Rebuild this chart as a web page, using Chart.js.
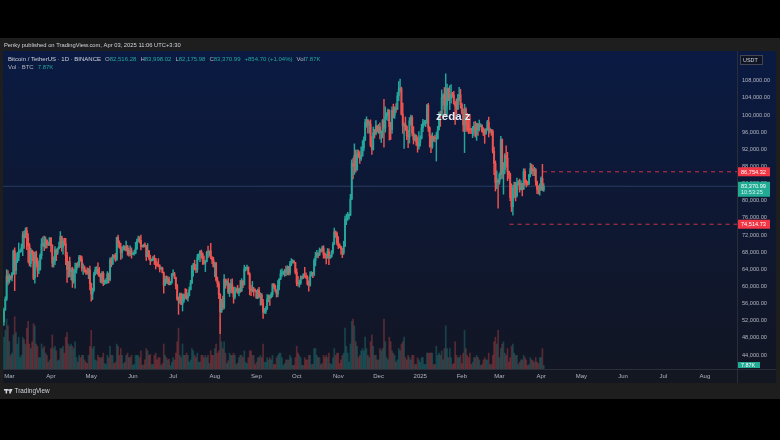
<!DOCTYPE html>
<html>
<head>
<meta charset="utf-8">
<title>BTCUSDT 1D</title>
<script src="https://cdn.jsdelivr.net/npm/chart.js@4.4.1/dist/chart.umd.min.js"></script>
<style>
  html, body { margin: 0; padding: 0; background: #000; }
</style>
</head>
<body>
<canvas id="btcChart" width="780" height="440"></canvas>
<script>
// days are counted from Mar 1 2024 (day 0); first candle is Feb 26 2024
var firstDay = -4;
var firstOpen = 51730;

// daily closes, Feb 26 2024 -> Apr 3 2025
var closes = [
  54476, 57037, 62432, 61130,
  // Mar 2024
  62387, 61987, 63113, 68245, 63724, 66075, 66813, 68124, 68313, 68955,
  72078, 71452, 73072, 71388, 69499, 65300, 68393, 67609, 61937, 67840,
  65501, 63796, 64037, 67211, 69880, 69987, 69455, 70744, 69892, 69645, 71333,
  // Apr
  69702, 65446, 65980, 68508, 67837, 68896, 69360, 71620, 69146, 70631,
  70007, 67195, 63924, 65738, 63426, 63811, 61276, 63512, 63843, 64994,
  64927, 66837, 66408, 64276, 64481, 63756, 63419, 63113, 63841, 60636,
  // May
  58254, 59123, 62889, 63891, 64031, 63161, 62334, 61187, 63049, 60792,
  60793, 61448, 62901, 61552, 66189, 65231, 67051, 66940, 66278, 71447,
  70136, 69122, 67929, 68526, 69265, 68518, 69394, 68296, 67578, 68364, 67491,
  // Jun
  67706, 67751, 68804, 70567, 71082, 70757, 69342, 69305, 69647, 69512,
  66998, 68242, 66747, 66010, 66191, 66639, 66490, 65140, 64960, 64828,
  64096, 64252, 63180, 60277, 61804, 60864, 61706, 60427, 60986, 62772,
  // Jul
  62899, 62135, 60209, 57050, 56628, 58230, 55857, 56714, 58050, 57725,
  57339, 57889, 59204, 60797, 64724, 65043, 64087, 63987, 66660, 67139,
  68165, 67532, 65936, 65372, 65778, 67912, 67813, 68255, 66784, 66188, 64628,
  // Aug
  65354, 61498, 60697, 58162, 54018, 56030, 55134, 61685, 60837, 60923,
  58712, 59346, 60587, 58683, 57541, 58874, 59491, 58427, 59439, 59013,
  61157, 60381, 64094, 64178, 64526, 62834, 59415, 59034, 59359, 59123, 58973,
  // Sep
  57301, 59132, 57487, 57970, 56160, 53962, 54160, 54869, 57050, 57648,
  57341, 58127, 60571, 60005, 59182, 58213, 60309, 61759, 62947, 63201,
  63349, 63578, 63339, 64262, 63152, 65173, 65769, 65858, 65602, 63327,
  // Oct
  60805, 60649, 60752, 62086, 62058, 62819, 62224, 62131, 60583, 60275,
  62446, 63193, 62851, 66047, 67042, 67612, 67399, 68419, 68362, 69002,
  67367, 67361, 66653, 68161, 66642, 67014, 67929, 69907, 72720, 72339, 70215,
  // Nov
  69482, 69289, 68742, 67811, 69359, 75640, 75904, 76538, 76649, 80370,
  88701, 87955, 90584, 87250, 91064, 90558, 89845, 90464, 92310, 94286,
  98317, 98892, 97673, 97900, 93010, 91965, 95864, 95644, 97461, 96407,
  // Dec
  97185, 95840, 96002, 98768, 96945, 99740, 99831, 101109, 97276, 96594,
  101125, 100004, 101424, 101420, 104463, 106058, 106133, 100204, 97461, 97805,
  97291, 95186, 94881, 98663, 99430, 95792, 94284, 95300, 93739, 92793, 93577,
  // Jan 2025
  94591, 96985, 98175, 98237, 98314, 102235, 96954, 95060, 92553, 94727,
  94566, 94488, 94517, 96535, 100505, 99987, 104078, 104556, 101331, 102260,
  106143, 103706, 103960, 104820, 104714, 102682, 102087, 101332, 103733, 104722, 102430,
  // Feb
  100635, 97700, 101328, 97763, 96612, 96554, 96506, 96444, 96462, 97430,
  95778, 97869, 96608, 97500, 97570, 96118, 95780, 95671, 96644, 98305,
  96181, 96550, 96258, 91552, 88680, 84250, 84708, 84350,
  // Mar
  86064, 94270, 86220, 87281, 90606, 89931, 86801, 86222, 80734, 78595,
  82932, 83680, 81115, 83983, 84338, 82574, 84010, 82716, 86854, 84167,
  84043, 83832, 86082, 87498, 87392, 86909, 87232, 84424, 82649, 82389, 82550,
  // Apr
  85158, 82516.28, 83370.99
];

var highs = [
  54938, 57588, 63913, 63676,
  62900, 62485, 63230, 68500, 69000, 67637, 67985, 70136, 68570, 69900,
  72800, 72925, 73650, 73777, 72357, 70044, 68917, 68500, 68124, 68029,
  68240, 66650, 65998, 67624, 71150, 71561, 71770, 71552, 70916, 70355, 71366,
  71288, 69675, 66914, 69291, 68725, 69020, 70327, 72797, 71758, 71172,
  71256, 71227, 67932, 65850, 66867, 64365, 64481, 64100, 65450, 65447,
  65665, 67233, 67208, 67075, 65275, 64789, 63923, 64368, 64227, 64734,
  60780, 59602, 63320, 64494, 64610, 65500, 64444, 62985, 63471, 63465,
  61490, 61850, 63450, 63118, 66698, 66738, 67451, 67400, 67700, 71515,
  71979, 70623, 70041, 69250, 69562, 69500, 70600, 69590, 68920, 69500, 69000,
  67860, 68409, 70288, 71063, 71758, 71625, 71997, 69582, 69850, 70146,
  69563, 69999, 68450, 67300, 66402, 66999, 67298, 66081, 65738, 66482,
  65066, 64521, 64493, 63369, 62360, 62480, 62293, 62180, 61200, 63058,
  63861, 63288, 62150, 60498, 57546, 58475, 58449, 58236, 58296, 59470,
  59359, 58526, 59850, 61420, 64900, 65388, 66128, 65133, 67487, 67612,
  68366, 68480, 67816, 67102, 66112, 68237, 69399, 68318, 70079, 66987, 66825,
  65659, 65596, 62198, 61117, 58305, 57040, 57726, 62745, 61744, 61470,
  61858, 60699, 61578, 61800, 59849, 59850, 59689, 60262, 59618, 61396,
  61819, 61400, 64955, 64513, 65000, 64481, 63211, 60235, 61166, 59800, 59449,
  59059, 59410, 59809, 58520, 58327, 56995, 54850, 55300, 58088, 58044,
  57991, 58588, 60625, 60656, 60381, 59210, 61339, 61786, 63872, 64133,
  63559, 64000, 64745, 64818, 64700, 65839, 66498, 66260, 66076, 65620,
  64130, 62357, 61470, 62484, 62370, 62974, 64478, 63200, 62544, 61320,
  63417, 63480, 63285, 66500, 67950, 68424, 67888, 68969, 68691, 69400,
  69500, 67836, 67470, 68850, 68772, 67309, 68372, 70270, 73620, 72961, 72700,
  71632, 69950, 69390, 68880, 70577, 76400, 76849, 77300, 76950, 81500,
  89530, 89956, 93265, 91790, 91850, 91800, 91449, 92600, 94002, 94902,
  98988, 99588, 98767, 98564, 98871, 94973, 97208, 96650, 98693, 97499,
  97836, 98150, 96297, 99000, 103679, 101898, 100548, 101399, 101215, 98270,
  101895, 102540, 101895, 102650, 105250, 107793, 108353, 106500, 102800, 98150,
  99540, 97448, 96416, 99404, 99963, 99884, 97294, 95525, 95174, 94903, 96150,
  95149, 97839, 98976, 98734, 98813, 102482, 102724, 97258, 95349, 95837,
  95050, 95340, 95940, 97371, 100681, 100873, 105865, 104988, 106422, 109588,
  107240, 106327, 106850, 107120, 105286, 105500, 103220, 103783, 104800, 106457, 106012,
  102755, 101456, 102500, 101746, 100400, 99200, 100137, 96880, 97323, 98345,
  98500, 98119, 98076, 98826, 97972, 97725, 97046, 96753, 96899, 98756,
  99508, 96943, 96648, 96515, 92540, 89286, 87000, 85120,
  86500, 95000, 94416, 88912, 91000, 92810, 91283, 86898, 86471, 83955,
  83617, 84358, 84300, 85309, 84672, 85051, 84725, 84000, 87453, 87443,
  84850, 84539, 86106, 88765, 88543, 88292, 87786, 87515, 84567, 83505, 83943,
  85579, 88500, 83998.02
];

var lows = [
  50901, 54450, 56700, 60364,
  60777, 61581, 61300, 62787, 59005, 62848, 65545, 66000, 67900, 68050,
  67194, 68845, 71334, 68555, 65630, 64780, 64555, 66000, 61555, 60775,
  64530, 62260, 63000, 63821, 66385, 69280, 68359, 68903, 69009, 69570, 69504,
  68063, 64550, 64493, 65064, 66011, 67444, 68716, 69041, 68210, 67518,
  69567, 65086, 60919, 62134, 62274, 61600, 59768, 60775, 59600, 63100,
  64300, 64500, 65858, 63589, 62783, 63322, 62824, 62809, 61804, 59191,
  56552, 56937, 58848, 62599, 62955, 62700, 62300, 60866, 60700, 60187,
  60451, 60631, 60750, 60800, 61311, 64560, 65100, 66600, 65856, 66060,
  69162, 68900, 66300, 66600, 68500, 68450, 68232, 67278, 67075, 67131, 66600,
  67386, 67314, 67611, 68564, 70383, 70119, 68500, 69168, 69130, 69232,
  66051, 66900, 66251, 65078, 65871, 66000, 65130, 64066, 64693, 64559,
  63379, 63943, 63210, 58402, 60239, 60712, 60585, 60367, 60380, 60712,
  62497, 61792, 59419, 56771, 53485, 56018, 55724, 54260, 56289, 57157,
  56950, 56542, 57756, 59234, 60632, 62373, 63854, 63238, 63300, 66222,
  65777, 66573, 65126, 65111, 63456, 65750, 66694, 67066, 66428, 65301, 64525,
  62302, 61235, 59850, 57122, 49000, 53962, 54566, 54730, 59568, 60242,
  58287, 57642, 58510, 58433, 56078, 57098, 58785, 58410, 57787, 58610,
  58783, 59722, 60342, 63590, 63773, 62800, 58034, 57860, 58712, 57720, 58700,
  57201, 57120, 57415, 55606, 55670, 52550, 53745, 53653, 54591, 56386,
  55567, 57323, 57632, 59517, 58696, 57493, 57610, 59174, 61570, 62350,
  62758, 62357, 62538, 62700, 62669, 62670, 64819, 65422, 65432, 62930,
  60164, 60047, 59828, 60459, 61689, 61812, 62128, 61824, 60300, 58895,
  60067, 62442, 62050, 62425, 64800, 66750, 66668, 67177, 67910, 68100,
  66571, 66571, 65260, 66560, 65060, 66559, 66780, 67598, 69730, 71436, 69685,
  68820, 69000, 67478, 66711, 67458, 69323, 74416, 75400, 75700, 76490,
  80216, 85072, 86127, 86668, 87073, 90093, 88722, 89376, 90389, 91619,
  94000, 97122, 95734, 95734, 92600, 90791, 91792, 94650, 95358, 96000,
  95693, 94395, 93578, 94660, 92500, 95981, 98954, 98692, 94150, 94256,
  95700, 99311, 99205, 100609, 101234, 103333, 105321, 100000, 95700, 92175,
  96398, 94250, 92404, 93448, 97600, 95137, 93235, 94014, 92881, 91317, 92000,
  92745, 94392, 96100, 97562, 97280, 97926, 96181, 92500, 91220, 92206,
  93831, 93712, 89256, 94346, 96500, 97335, 99950, 102277, 99651, 99550,
  100119, 103319, 101262, 102750, 104106, 102520, 97777, 100273, 101328, 103293, 101560,
  100279, 96150, 91231, 96150, 96150, 95650, 95620, 95688, 94713, 95256,
  94850, 94088, 95217, 96252, 97223, 96055, 95205, 93388, 95465, 96415,
  94871, 95770, 95227, 91174, 86050, 82256, 82787, 78258,
  83824, 85050, 85117, 81529, 86334, 87852, 84667, 85218, 80000, 77459,
  76606, 80635, 79939, 80818, 83639, 82017, 82492, 81134, 82600, 83647,
  83175, 83600, 83794, 85541, 86300, 85861, 85858, 83585, 81644, 81565, 81279,
  82433, 82320, 82175.98
];

// daily volume, thousands of BTC
var volumes = [
  70, 85, 110, 95,
  60, 30, 35, 75, 115, 80, 55, 70, 25, 30, 70, 65, 55, 90, 105, 55, 45, 60, 100, 95, 55, 50, 25, 25, 55, 45, 50, 35, 30, 15, 20,
  45, 75, 45, 50, 40, 18, 20, 45, 45, 50, 35, 70, 80, 55, 50, 55, 50, 45, 60, 25, 15, 30, 25, 30, 30, 20, 15, 12, 30, 50,
  85, 45, 50, 20, 18, 30, 25, 25, 25, 35, 12, 10, 30, 25, 50, 30, 30, 12, 15, 55, 50, 30, 45, 30, 12, 15, 30, 35, 25, 25, 30,
  8, 10, 30, 30, 30, 25, 40, 8, 9, 20, 45, 40, 30, 32, 10, 10, 30, 35, 20, 25, 25, 8, 12, 55, 30, 25, 20, 22, 8, 15,
  25, 20, 35, 60, 90, 30, 25, 55, 30, 30, 35, 30, 15, 20, 45, 40, 30, 25, 35, 15, 15, 30, 30, 25, 30, 25, 30, 12, 40, 30, 30,
  45, 55, 35, 40, 115, 60, 45, 60, 35, 12, 18, 35, 30, 30, 35, 30, 10, 13, 25, 30, 30, 25, 40, 15, 12, 25, 40, 40, 30, 30, 10,
  15, 25, 25, 30, 25, 55, 15, 15, 25, 20, 25, 20, 30, 10, 10, 25, 30, 35, 35, 25, 8, 12, 20, 20, 20, 30, 25, 8, 8, 25,
  50, 35, 30, 25, 8, 8, 25, 20, 20, 30, 30, 10, 10, 45, 45, 30, 25, 25, 10, 12, 30, 25, 30, 25, 35, 12, 10, 25, 45, 30, 35,
  35, 12, 20, 30, 35, 90, 50, 35, 15, 55, 105, 110, 95, 60, 50, 25, 30, 40, 45, 40, 70, 45, 30, 25, 60, 75, 50, 30, 30, 20,
  20, 45, 40, 45, 110, 60, 25, 20, 70, 60, 40, 35, 30, 15, 20, 45, 40, 55, 60, 70, 25, 20, 30, 25, 20, 30, 30, 10, 10, 25, 20,
  15, 25, 25, 10, 10, 35, 35, 35, 35, 35, 10, 10, 50, 30, 35, 30, 40, 20, 45, 95, 45, 25, 45, 25, 10, 12, 60, 30, 25, 25, 30,
  12, 35, 85, 45, 30, 25, 35, 10, 15, 25, 25, 30, 25, 20, 8, 10, 20, 25, 20, 20, 35, 10, 10, 30, 60, 70, 55, 85,
  25, 45, 55, 60, 35, 30, 45, 15, 25, 50, 55, 35, 30, 30, 10, 15, 20, 20, 30, 25, 20, 8, 10, 25, 20, 18, 15, 25, 15, 12, 25,
  25, 45, 7.87
];

// x axis: month starts (days from Mar 1 2024)
var monthStarts = [0, 31, 61, 92, 122, 153, 184, 214, 245, 275, 306, 337, 365, 396, 426, 457, 487, 518];
var monthLabels = ['Mar', 'Apr', 'May', 'Jun', 'Jul', 'Aug', 'Sep', 'Oct', 'Nov', 'Dec', '2025', 'Feb', 'Mar', 'Apr', 'May', 'Jun', 'Jul', 'Aug'];
var priceTicks = [44000, 48000, 52000, 56000, 60000, 64000, 68000, 72000, 76000, 80000, 84000, 88000, 92000, 96000, 100000, 104000, 108000];

// horizontal levels drawn on the chart
var levelPrices = [86754.32, 74514.73];
var levelStartDays = [397.5, 372.5];

var X_MIN = -4.7, X_MAX = 541.9;
var Y_MIN = 40733, Y_MAX = 114933;

var GREEN = '#26a69a', RED = '#ef5350';
var FONT = '"Liberation Sans", Arial, sans-serif';

// build candles (open = previous close)
var wicks = [], bodies = [], vols = [], candleCol = [], volCol = [];
for (var i = 0; i < closes.length; i++) {
  var o = i === 0 ? firstOpen : closes[i - 1];
  var c = closes[i];
  var day = firstDay + i;
  var up = c >= o;
  wicks.push({ x: day, y: [Math.min(lows[i], o, c), Math.max(highs[i], o, c)] });
  bodies.push({ x: day, y: [o, c] });
  vols.push({ x: day, y: volumes[i] });
  candleCol.push(up ? GREEN : RED);
  volCol.push(up ? 'rgba(38,166,154,0.32)' : 'rgba(239,83,80,0.32)');
}
var lastClose = closes[closes.length - 1];

function fmt(v) {
  return v.toLocaleString('en-US', { minimumFractionDigits: 2, maximumFractionDigits: 2 });
}

// frame, panel background
var backdrop = {
  id: 'backdrop',
  beforeDraw: function (chart) {
    var ctx = chart.ctx;
    ctx.save();
    ctx.fillStyle = '#000';
    ctx.fillRect(0, 0, 780, 440);
    ctx.fillStyle = '#1e1e1e';
    ctx.fillRect(0, 38, 780, 361);
    var g = ctx.createLinearGradient(0, 51, 0, 369);
    g.addColorStop(0, '#0a1a42');
    g.addColorStop(1, '#121624');
    ctx.fillStyle = g;
    ctx.fillRect(3, 51, 773, 318);
    ctx.fillStyle = '#131722';
    ctx.fillRect(3, 369, 773, 14);
    ctx.strokeStyle = '#2a2e39';
    ctx.lineWidth = 1;
    ctx.beginPath();
    ctx.moveTo(737.5, 51); ctx.lineTo(737.5, 383);
    ctx.moveTo(3, 369.5); ctx.lineTo(776, 369.5);
    ctx.stroke();
    ctx.restore();
  }
};

function tag(ctx, y, h, bg, lines, fg) {
  ctx.fillStyle = bg;
  ctx.fillRect(738, y - h / 2, 32, h);
  ctx.fillStyle = fg || '#fff';
  ctx.font = '5.6px ' + FONT;
  ctx.textAlign = 'left';
  ctx.textBaseline = 'middle';
  if (lines.length === 1) {
    ctx.fillText(lines[0], 741, y + 0.5);
  } else {
    ctx.fillText(lines[0], 741, y - 3);
    ctx.fillStyle = '#d8f3ef';
    ctx.fillText(lines[1], 741, y + 3.5);
  }
}

// texts, tags and watermark
var overlay = {
  id: 'overlay',
  afterDraw: function (chart) {
    var ctx = chart.ctx;
    var ys = chart.scales.y;
    ctx.save();

    // header
    ctx.font = '5.8px ' + FONT;
    ctx.textBaseline = 'middle';
    ctx.fillStyle = '#d1d4dc';
    ctx.fillText('Penky published on TradingView.com, Apr 03, 2025 11:06 UTC+3:30', 4, 45);

    // legend
    var x = 8;
    function part(t, col, gap) {
      ctx.fillStyle = col;
      ctx.fillText(t, x, 59);
      x += ctx.measureText(t).width + (gap || 0);
    }
    ctx.font = '6px ' + FONT;
    part('Bitcoin / TetherUS · 1D · BINANCE', '#d1d4dc', 4);
    var ohlc = [['O', '82,516.28'], ['H', '83,998.02'], ['L', '82,175.98'], ['C', '83,370.99']];
    ohlc.forEach(function (p) { part(p[0], '#b2b5be'); part(p[1], GREEN, 4); });
    part('+854.70 (+1.04%)', GREEN, 4);
    part('Vol', '#b2b5be');
    part('7.87K', GREEN);
    ctx.fillStyle = '#b2b5be';
    ctx.fillText('Vol · BTC', 8, 67);
    ctx.fillStyle = GREEN;
    ctx.fillText('7.87K', 8 + ctx.measureText('Vol · BTC').width + 4, 67);

    // watermark text
    ctx.font = 'bold 11.5px ' + FONT;
    ctx.fillStyle = '#e6e9f0';
    ctx.fillText('zeda z', 436, 117);

    // USDT box
    ctx.fillStyle = '#0f1424';
    ctx.fillRect(740, 55, 23, 10);
    ctx.strokeStyle = '#434651';
    ctx.strokeRect(740.5, 55.5, 22, 9);
    ctx.font = '5.4px ' + FONT;
    ctx.fillStyle = '#d1d4dc';
    ctx.fillText('USDT', 743, 60.5);

    // price tags
    tag(ctx, ys.getPixelForValue(levelPrices[0]), 9, '#f23645', [fmt(levelPrices[0])]);
    tag(ctx, ys.getPixelForValue(levelPrices[1]), 9, '#f23645', [fmt(levelPrices[1])]);
    tag(ctx, ys.getPixelForValue(lastClose) + 3, 15, '#22ab94', [fmt(lastClose), '10:53:25']);

    // volume tag
    ctx.fillStyle = '#22ab94';
    ctx.fillRect(738, 362, 22, 6);
    ctx.fillStyle = '#fff';
    ctx.font = '5.4px ' + FONT;
    ctx.fillText('7.87K', 741, 365.3);

    // footer logo
    ctx.fillStyle = '#d1d4dc';
    ctx.fillRect(4, 389, 4, 1.6);
    ctx.fillRect(5.6, 389, 1.5, 4.5);
    ctx.beginPath();
    ctx.arc(9, 390, 0.9, 0, Math.PI * 2);
    ctx.fill();
    ctx.beginPath();
    ctx.moveTo(9.6, 389); ctx.lineTo(12.6, 389); ctx.lineTo(10.6, 393.5); ctx.lineTo(9.2, 393.5);
    ctx.fill();
    ctx.font = '6.4px ' + FONT;
    ctx.fillText('TradingView', 14.5, 391.5);

    ctx.restore();
  }
};

var ctx = document.getElementById('btcChart').getContext('2d');
var btcChart = new Chart(ctx, {
  type: 'bar',
  data: {
    datasets: [
      {
        label: 'Levels 1',
        type: 'line',
        data: [{ x: levelStartDays[0], y: levelPrices[0] }, { x: X_MAX, y: levelPrices[0] }],
        borderColor: 'rgba(242,54,69,0.85)',
        borderWidth: 1,
        borderDash: [4, 4],
        pointRadius: 0,
        order: 0
      },
      {
        label: 'Levels 2',
        type: 'line',
        data: [{ x: levelStartDays[1], y: levelPrices[1] }, { x: X_MAX, y: levelPrices[1] }],
        borderColor: 'rgba(242,54,69,0.85)',
        borderWidth: 1,
        borderDash: [4, 4],
        pointRadius: 0,
        order: 0
      },
      {
        label: 'Bodies',
        data: bodies,
        backgroundColor: candleCol,
        barThickness: 1.3,
        minBarLength: 1,
        grouped: false,
        borderWidth: 0,
        order: 1
      },
      {
        label: 'Wicks',
        data: wicks,
        backgroundColor: candleCol,
        barThickness: 0.8,
        grouped: false,
        borderWidth: 0,
        order: 2
      },
      {
        label: 'Last',
        type: 'line',
        data: [{ x: X_MIN, y: lastClose }, { x: X_MAX, y: lastClose }],
        borderColor: 'rgba(60,90,135,0.55)',
        borderWidth: 1,
        pointRadius: 0,
        order: 4
      },
      {
        label: 'Volume',
        data: vols,
        yAxisID: 'yv',
        backgroundColor: volCol,
        barThickness: 1,
        grouped: false,
        borderWidth: 0,
        order: 5
      }
    ]
  },
  options: {
    responsive: false,
    animation: false,
    events: [],
    layout: { padding: { left: 3, top: 51, right: 4, bottom: 57 } },
    plugins: { legend: { display: false }, tooltip: { enabled: false } },
    scales: {
      x: {
        type: 'linear',
        min: X_MIN,
        max: X_MAX,
        offset: false,
        afterBuildTicks: function (s) { s.ticks = monthStarts.map(function (v) { return { value: v }; }); },
        afterFit: function (s) { s.height = 14; },
        ticks: {
          color: '#b2b5be',
          font: { size: 6, family: FONT },
          padding: 4,
          maxRotation: 0,
          autoSkip: false,
          callback: function (v, i) { return monthLabels[i]; }
        },
        grid: { display: false, drawTicks: false },
        border: { display: false }
      },
      y: {
        type: 'linear',
        position: 'right',
        min: Y_MIN,
        max: Y_MAX,
        afterBuildTicks: function (s) { s.ticks = priceTicks.map(function (v) { return { value: v }; }); },
        afterFit: function (s) { s.width = 39; },
        ticks: {
          color: '#b2b5be',
          font: { size: 5.6, family: FONT },
          padding: 5,
          callback: function (v) { return fmt(v); }
        },
        grid: { display: false, drawTicks: false },
        border: { display: false }
      },
      yv: {
        type: 'linear',
        display: false,
        min: 0,
        max: 700
      }
    }
  },
  plugins: [backdrop, overlay]
});
</script>
</body>
</html>
